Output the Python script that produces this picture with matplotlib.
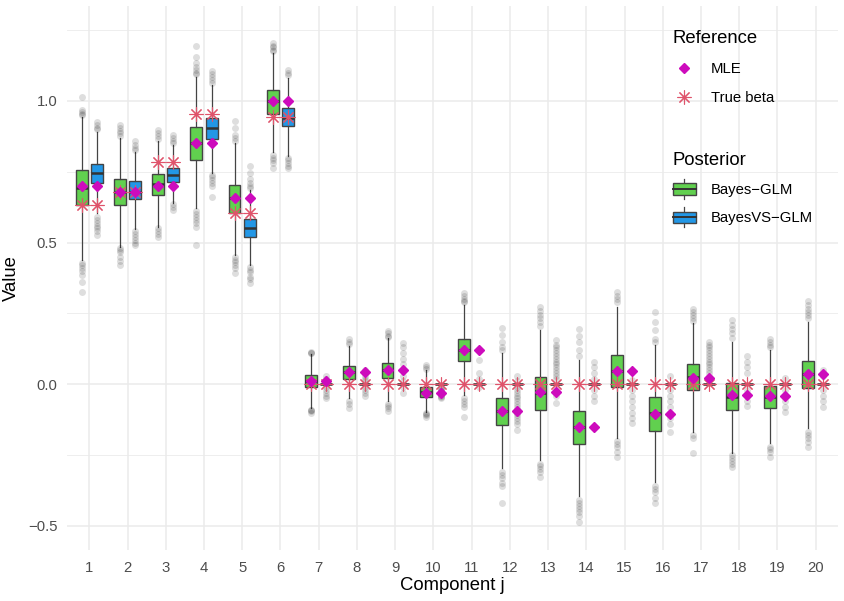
import numpy as np
import matplotlib.pyplot as plt
from matplotlib.lines import Line2D
from matplotlib.patches import Patch, Rectangle
from matplotlib.legend_handler import HandlerBase

plt.rcParams['font.family'] = ['Liberation Sans', 'DejaVu Sans']

components = list(range(1, 21))

# Bayes-GLM posterior box stats
glm_lo = [0.439, 0.486, 0.556, 0.621, 0.457, 0.821, -0.085, -0.05, -0.058, -0.097,
          -0.038, -0.297, -0.267, -0.394, -0.191, -0.346, -0.167, -0.244, -0.208, -0.155]
glm_q1 = [0.631, 0.631, 0.668, 0.792, 0.606, 0.954, -0.011, 0.020, 0.023, -0.044,
          0.082, -0.144, -0.091, -0.211, -0.011, -0.165, -0.02, -0.091, -0.085, -0.012]
glm_med = [0.692, 0.680, 0.706, 0.851, 0.657, 0.998, 0.012, 0.042, 0.05, -0.028,
           0.121, -0.094, -0.032, -0.15, 0.048, -0.103, 0.027, -0.044, -0.046, 0.035]
glm_q3 = [0.756, 0.724, 0.741, 0.907, 0.704, 1.037, 0.033, 0.065, 0.076, -0.011,
          0.159, -0.05, 0.025, -0.093, 0.103, -0.046, 0.072, 0.004, -0.006, 0.082]
glm_hi = [0.945, 0.869, 0.857, 1.086, 0.851, 1.169, 0.107, 0.135, 0.162, 0.05,
          0.28, 0.112, 0.192, 0.086, 0.274, 0.139, 0.215, 0.15, 0.121, 0.221]
glm_out = [
    [1.013, 0.969, 0.962, 0.955, 0.951, 0.428, 0.42, 0.41, 0.40, 0.386, 0.36, 0.327],
    [0.916, 0.905, 0.895, 0.885, 0.875, 0.48, 0.475, 0.465, 0.45, 0.435, 0.421],
    [0.898, 0.885, 0.875, 0.865, 0.55, 0.54, 0.53, 0.52],
    [1.195, 1.155, 1.135, 1.121, 1.11, 1.10, 1.095, 0.61, 0.60, 0.59, 0.58, 0.568, 0.555, 0.492],
    [0.93, 0.904, 0.88, 0.87, 0.86, 0.45, 0.44, 0.43, 0.42, 0.41, 0.392],
    [1.206, 1.195, 1.19, 1.18, 1.175, 0.81, 0.80, 0.79, 0.78, 0.763],
    [0.115, 0.112, 0.11, -0.09, -0.092, -0.095, -0.10],
    [0.159, 0.15, 0.142, -0.06, -0.07, -0.085],
    [0.189, 0.18, 0.172, 0.168, -0.068, -0.075, -0.085, -0.093],
    [0.068, 0.06, 0.055, -0.102, -0.105, -0.108, -0.114],
    [0.323, 0.31, 0.30, 0.295, 0.29, -0.05, -0.06, -0.07, -0.08, -0.114],
    [0.198, 0.175, 0.149, 0.13, 0.12, -0.31, -0.32, -0.33, -0.35, -0.36, -0.42],
    [0.274, 0.26, 0.245, 0.235, 0.22, 0.205, -0.28, -0.29, -0.30, -0.31, -0.326],
    [0.194, 0.17, 0.15, 0.12, 0.10, -0.41, -0.42, -0.43, -0.44, -0.45, -0.465, -0.485],
    [0.327, 0.31, 0.30, 0.29, -0.20, -0.21, -0.22, -0.24, -0.256],
    [0.256, 0.22, 0.19, 0.16, 0.15, -0.36, -0.37, -0.38, -0.40, -0.42],
    [0.265, 0.255, 0.245, 0.235, 0.225, -0.18, -0.19, -0.244],
    [0.227, 0.21, 0.195, 0.18, 0.165, -0.25, -0.26, -0.27, -0.28, -0.291],
    [0.16, 0.15, 0.14, 0.13, -0.22, -0.23, -0.24, -0.256],
    [0.295, 0.28, 0.265, 0.255, 0.245, 0.235, -0.17, -0.18, -0.19, -0.205, -0.22],
]

# BayesVS-GLM posterior box stats (collapsed at 0 for 7..20)
vs_lo = [0.604, 0.547, 0.641, 0.745, 0.421, 0.806] + [0.0] * 14
vs_q1 = [0.710, 0.653, 0.715, 0.866, 0.519, 0.910] + [0.0] * 14
vs_med = [0.745, 0.680, 0.739, 0.906, 0.551, 0.941] + [0.0] * 14
vs_q3 = [0.778, 0.718, 0.763, 0.941, 0.583, 0.975] + [0.0] * 14
vs_hi = [0.892, 0.821, 0.845, 1.057, 0.686, 1.080] + [0.0] * 14
vs_out = [
    [0.927, 0.915, 0.905, 0.90, 0.59, 0.58, 0.57, 0.56, 0.55, 0.54, 0.527],
    [0.857, 0.845, 0.835, 0.828, 0.54, 0.53, 0.52, 0.51, 0.50, 0.492],
    [0.88, 0.87, 0.86, 0.852, 0.635, 0.625, 0.615],
    [1.104, 1.095, 1.085, 1.075, 1.065, 0.74, 0.73, 0.72, 0.71, 0.70, 0.662],
    [0.772, 0.745, 0.724, 0.71, 0.70, 0.692, 0.415, 0.405, 0.395, 0.38, 0.37, 0.357],
    [1.11, 1.10, 1.09, 0.80, 0.79, 0.78, 0.77, 0.763],
    [0.03, 0.02, 0.01, -0.01, -0.02, -0.03, -0.04, -0.05],
    [0.05, 0.03, 0.02, 0.01, -0.01, -0.02, -0.03, -0.04],
    [0.145, 0.13, 0.11, 0.09, 0.07, 0.05, 0.03, 0.01, -0.01, -0.03],
    [-0.01, -0.015, -0.02, -0.025, -0.03, -0.035, -0.04, -0.045, -0.05],
    [0.085, 0.04, 0.02, -0.01],
    [0.03, 0.01, -0.01, -0.02, -0.03, -0.04, -0.05, -0.06, -0.07, -0.08, -0.09,
     -0.10, -0.11, -0.12, -0.13, -0.14, -0.16],
    [0.157, 0.14, 0.13, 0.12, 0.11, 0.10, 0.09, 0.08, 0.07, 0.06, 0.05, 0.04,
     0.03, 0.02, -0.02, -0.04, -0.066],
    [0.08, 0.06, 0.04, 0.02, -0.02, -0.04, -0.06],
    [0.015, -0.02, -0.04, -0.06, -0.08, -0.10, -0.12, -0.137],
    [0.03, -0.02, -0.04, -0.06, -0.08, -0.10, -0.12, -0.14, -0.17],
    [0.15, 0.14, 0.13, 0.12, 0.11, 0.10, 0.09, 0.08, 0.07, 0.06, 0.05, 0.039],
    [0.10, 0.08, 0.06, 0.04, -0.02, -0.04, -0.06, -0.077],
    [0.023, -0.02, -0.04, -0.06, -0.08, -0.097],
    [0.05, 0.03, -0.02, -0.04, -0.06, -0.079],
]

mle = [0.698, 0.680, 0.700, 0.852, 0.659, 1.000, 0.013, 0.045, 0.050, -0.030,
       0.121, -0.094, -0.027, -0.150, 0.048, -0.105, 0.022, -0.039, -0.041, 0.035]
true_beta = [0.633, 0.680, 0.786, 0.953, 0.604, 0.945] + [0.0] * 14

GREEN = '#61D04F'
BLUE = '#2297E6'
PINK = '#DF536B'
MAGENTA = '#CD0BBC'
DODGE = 0.2
WIDTH = 0.31


def make_stats(lo, q1, med, q3, hi, out):
    return [dict(whislo=a, q1=b, med=c, q3=d, whishi=e, fliers=f)
            for a, b, c, d, e, f in zip(lo, q1, med, q3, hi, out)]


class BoxHandler(HandlerBase):
    # little ggplot-like box key: whisker, box, median line
    def create_artists(self, legend, orig_handle, xdescent, ydescent,
                       width, height, fontsize, trans):
        cx = -xdescent + width / 2
        cy = -ydescent + height / 2
        bw, bh = width * 0.95, height * 0.66
        whisk = Line2D([cx, cx], [cy - height * 0.58, cy + height * 0.58],
                       color='#444444', linewidth=0.9, transform=trans)
        rect = Rectangle((cx - bw / 2, cy - bh / 2), bw, bh,
                         facecolor=orig_handle.get_facecolor(), edgecolor='#444444',
                         linewidth=1.0, transform=trans)
        med = Line2D([cx - bw / 2, cx + bw / 2], [cy, cy], color='#333333',
                     linewidth=1.4, transform=trans)
        return [whisk, rect, med]


fig = plt.figure(figsize=(8.45, 6.01), dpi=100)
ax = fig.add_axes([67 / 845, 51 / 601, 771 / 845, 544 / 601])

x = np.array(components, dtype=float)
flier = dict(marker='o', markerfacecolor='black', markeredgecolor='none',
             markersize=5, alpha=0.13)
for stats, pos, col in [(make_stats(glm_lo, glm_q1, glm_med, glm_q3, glm_hi, glm_out), x - DODGE, GREEN),
                        (make_stats(vs_lo, vs_q1, vs_med, vs_q3, vs_hi, vs_out), x + DODGE, BLUE)]:
    ax.bxp(stats, positions=pos, widths=WIDTH, patch_artist=True, showcaps=False,
           boxprops=dict(facecolor=col, edgecolor='#444444', linewidth=1.0),
           medianprops=dict(color='#333333', linewidth=1.8),
           whiskerprops=dict(color='#444444', linewidth=0.9),
           flierprops=flier, manage_ticks=False, zorder=2)

for off in (-DODGE, DODGE):
    ax.plot(x + off, true_beta, linestyle='none', marker=(8, 2, 0), markersize=10,
            markeredgewidth=0.8, color=PINK, zorder=4)
    ax.plot(x + off, mle, linestyle='none', marker='D', markersize=5,
            color=MAGENTA, markeredgecolor=MAGENTA, zorder=5)

ax.set_xlim(0.417, 20.583)
ax.set_ylim(-0.585, 1.335)
ax.set_xticks(components)
ax.set_xticklabels([str(c) for c in components])
ax.set_yticks([-0.5, 0.0, 0.5, 1.0])
ax.set_yticklabels(['\u22120.5', '0.0', '0.5', '1.0'])
ax.set_yticks([-0.25, 0.25, 0.75, 1.25], minor=True)
ax.grid(True, which='major', color='#EBEBEB', linewidth=1.1)
ax.grid(True, which='minor', axis='y', color='#EBEBEB', linewidth=0.6)
ax.set_axisbelow(True)
for s in ax.spines.values():
    s.set_visible(False)
ax.tick_params(which='both', length=0, labelsize=10.7, labelcolor='#4D4D4D')
ax.tick_params(axis='x', pad=8)
ax.tick_params(axis='y', pad=7)
ax.set_xlabel('Component j', fontsize=13.3, labelpad=1)
ax.set_ylabel('Value', fontsize=13.3, labelpad=6)

# legends
ref_handles = [Line2D([], [], linestyle='none', marker='D', markersize=5, color=MAGENTA),
               Line2D([], [], linestyle='none', marker=(8, 2, 0), markersize=10,
                      markeredgewidth=0.8, color=PINK)]
leg1 = ax.legend(ref_handles, ['MLE', 'True beta'], title='Reference',
                 loc='upper left', bbox_to_anchor=(662 / 845, 1 - 20 / 601),
                 bbox_transform=fig.transFigure, frameon=False, fontsize=10.7,
                 title_fontsize=13.3, labelspacing=1.0, handlelength=1.6,
                 handletextpad=1.0, alignment='left', borderaxespad=0.3)
ax.add_artist(leg1)

box_handles = [Patch(facecolor=GREEN), Patch(facecolor=BLUE)]
leg2 = ax.legend(box_handles, ['Bayes\u2212GLM', 'BayesVS\u2212GLM'], title='Posterior',
                 handler_map={Patch: BoxHandler()},
                 loc='upper left', bbox_to_anchor=(662 / 845, 1 - 142 / 601),
                 bbox_transform=fig.transFigure, frameon=False, fontsize=10.7,
                 title_fontsize=13.3, labelspacing=0.75, handlelength=1.6,
                 handleheight=1.4, handletextpad=1.0, alignment='left',
                 borderaxespad=0.3)

fig.savefig('out.png', dpi=100)
